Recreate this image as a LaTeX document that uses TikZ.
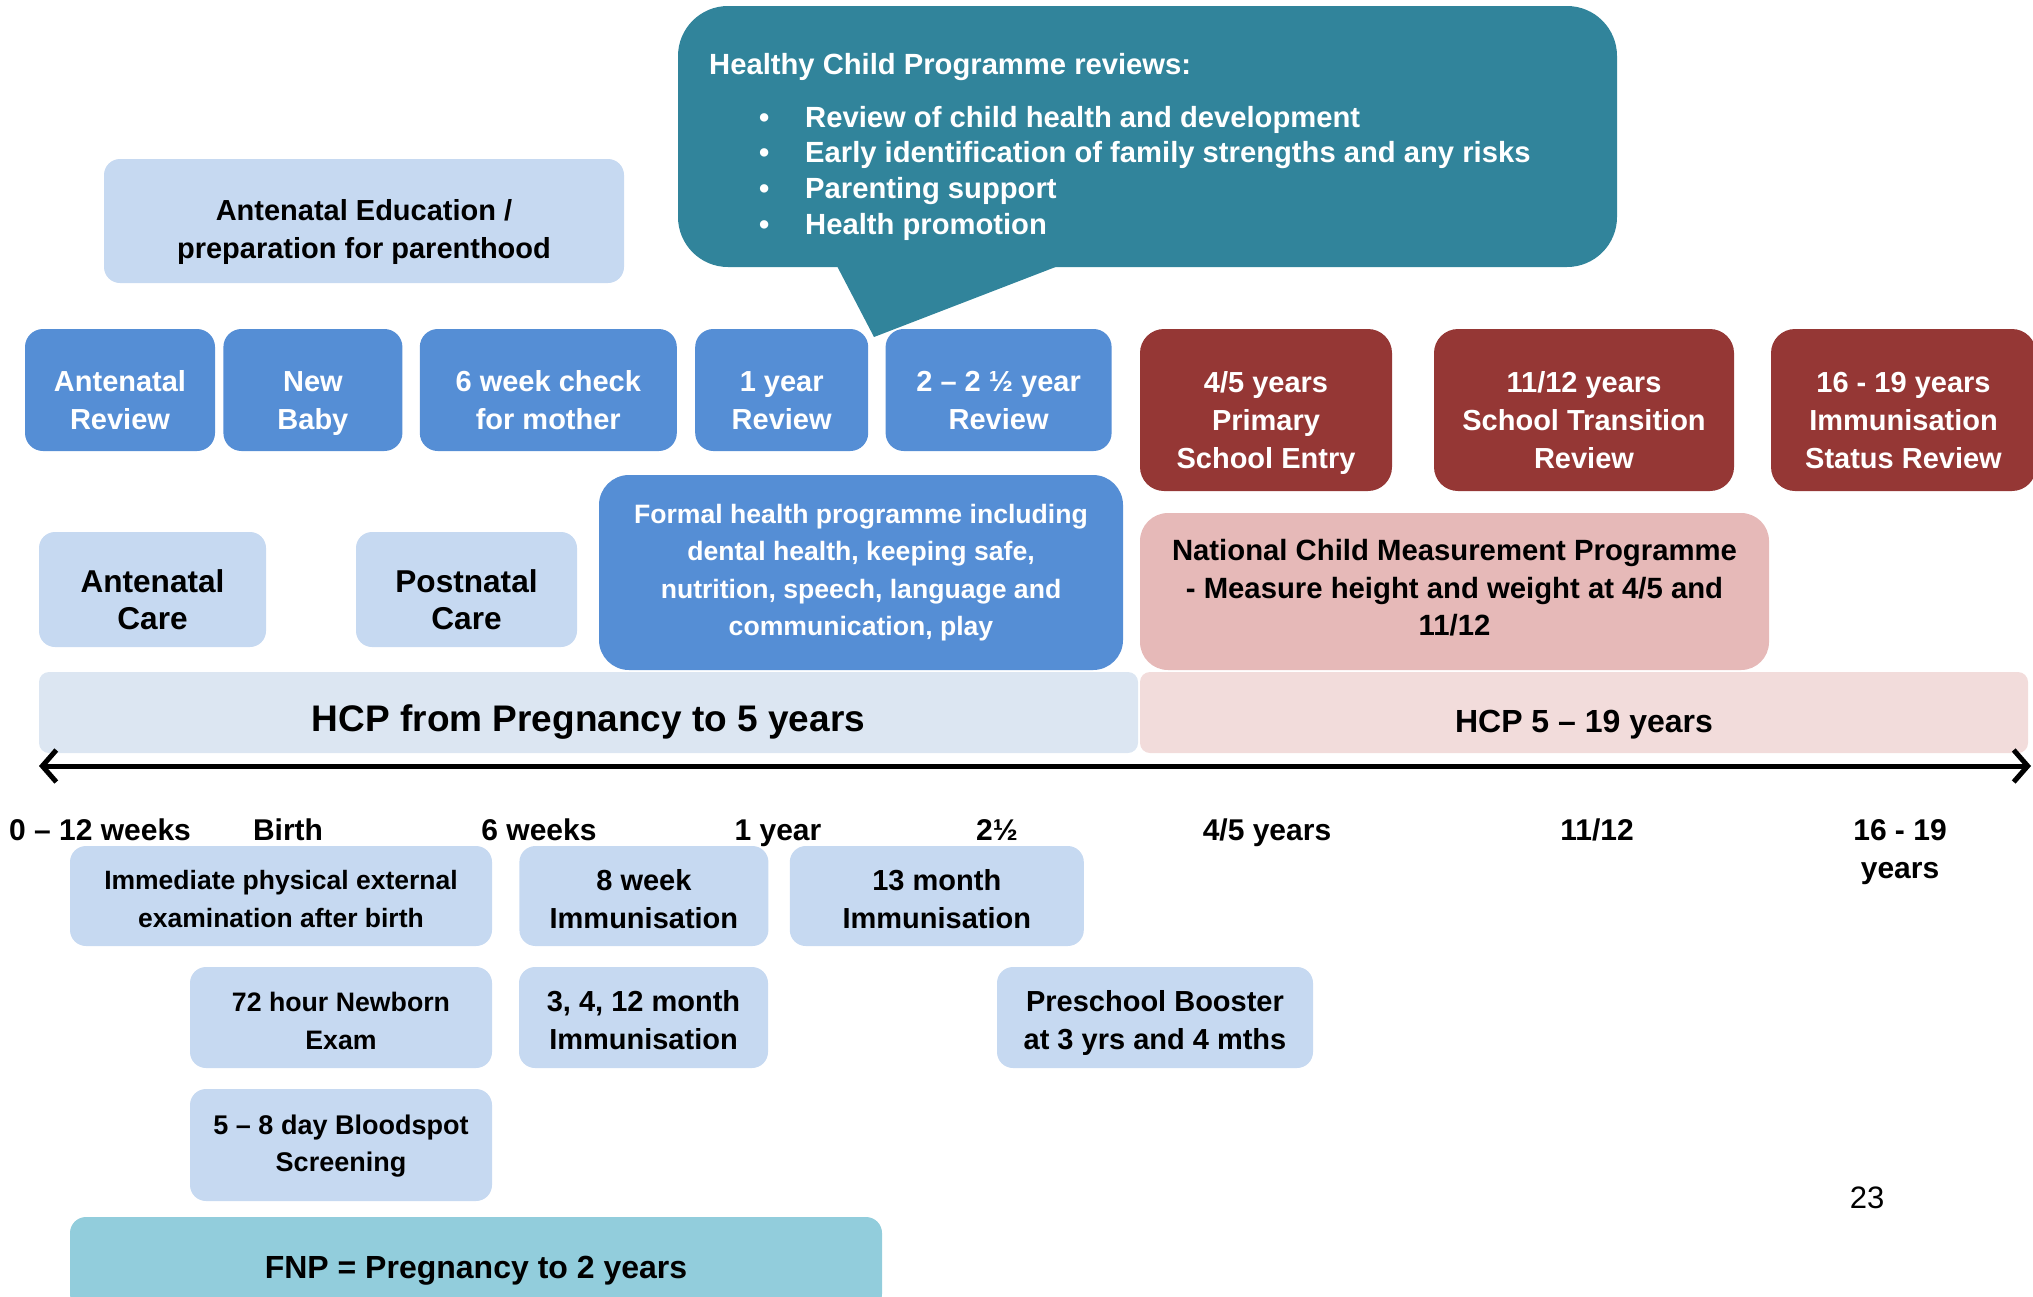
\documentclass[tikz,border=0pt]{standalone}
\usepackage{fontspec}
\setmainfont{Liberation Sans}
\usetikzlibrary{positioning,arrows.meta}

\definecolor{hcpteal}{HTML}{31849B}
\definecolor{revblue}{HTML}{558ED5}
\definecolor{paleblue}{HTML}{C6D9F1}
\definecolor{schred}{HTML}{953735}
\definecolor{ncmppink}{HTML}{E6B9B8}
\definecolor{bandblue}{HTML}{DCE6F2}
\definecolor{bandpink}{HTML}{F2DCDB}
\definecolor{fnpaqua}{HTML}{92CDDC}

\newcommand{\fsz}[2]{\fontsize{#1}{#2}\selectfont}

\begin{document}
\begin{tikzpicture}[x=1pt,y=-1pt,
	revw/.style={
	  fill=revblue,
	  rounded corners=18pt,
	  text=white,
	  font=\fsz{29}{38}\bfseries,
	  align=center,
	  inner sep=0pt,
	  minimum height=122pt,
	  text height=78.8pt,
	  text depth=0pt
	},
	schl/.style={
	  fill=schred,
	  rounded corners=24pt,
	  text=white,
	  font=\fsz{29}{38}\bfseries,
	  align=center,
	  inner sep=0pt,
	  minimum height=162pt,
	  text height=116.8pt,
	  text depth=0pt
	},
	pale/.style={
	  fill=paleblue,
	  rounded corners=16pt,
	  align=center,
	  inner sep=0pt,
	  text depth=0pt
	},
	band/.style={
	  rounded corners=10pt,
	  inner sep=0pt,
	  minimum height=81pt
	},
	lbl/.style={
	  font=\fsz{30}{38}\bfseries,
	  align=center,
	  inner sep=0pt,
	  text height=21.5pt,
	  text depth=0pt
	},
	barb/.tip={Straight Barb[length=14pt,width=32pt]}
]
\useasboundingbox (0,0) rectangle (2033,1296);
\clip (0,0) rectangle (2033,1296);

% antenatal education
\node[pale,minimum width=520pt,minimum height=124pt,
  font=\fsz{29}{38}\bfseries,text height=74.8pt] at (364,221)
  (edu) {Antenatal Education /\\preparation for parenthood};

% review boxes
\node[revw,minimum width=190pt] at (120,390)
  (ante) {Antenatal\\Review};
\node[revw,minimum width=179pt,right=8pt of ante]
  (baby) {New\\Baby};
\node[revw,minimum width=257pt,right=17pt of baby]
  (sixwk) {6 week check\\for mother};
\node[revw,minimum width=173pt,right=18pt of sixwk]
  (oneyr) {1 year\\Review};
\node[revw,minimum width=226pt,right=17pt of oneyr]
  (twoyr) {2 – 2 ½ year\\Review};

% school age reviews
\node[schl,minimum width=252pt] at (1266,410)
  (fouryr) {4/5 years\\Primary\\School Entry};
\node[schl,minimum width=300pt] at (1584,410)
  (elevenyr) {11/12 years\\School Transition\\Review};
\node[schl,minimum width=265pt] at (1903.5,410)
  (sixteenyr) {16 - 19 years\\Immunisation\\Status Review};

% reviews bubble
\node[fill=hcpteal,rounded corners=50pt,minimum width=939pt,
  minimum height=261pt] at (1147.5,136.5) (hcp) {};
\coordinate (tip) at (874,337);
\fill[hcpteal] ([xshift=-312.5pt,yshift=5pt]hcp.south) -- (tip)
  -- ([xshift=-79.5pt,yshift=5pt]hcp.south) -- cycle;
\node[anchor=north west,inner sep=0pt,text=white,align=left,
  font=\fsz{29.2}{35.7}\bfseries] at (709,53)
  (hcplist) {Healthy Child Programme reviews:\\[17pt]
  \hspace*{50pt}\makebox[46pt][l]{\textbullet}Review of child health and development\\
  \hspace*{50pt}\makebox[46pt][l]{\textbullet}Early identification of family strengths and any risks\\
  \hspace*{50pt}\makebox[46pt][l]{\textbullet}Parenting support\\
  \hspace*{50pt}\makebox[46pt][l]{\textbullet}Health promotion};

% care and programmes
\node[pale,minimum width=227pt,minimum height=115pt,
  font=\fsz{31.6}{37}\bfseries,text height=79.6pt] at (152.5,589.5)
  (antecare) {Antenatal\\Care};
\node[pale,minimum width=221pt,minimum height=115pt,
  font=\fsz{31.6}{37}\bfseries,text height=79.6pt] at (466.5,589.5)
  (postcare) {Postnatal\\Care};
\node[fill=revblue,rounded corners=30pt,minimum width=524pt,
  minimum height=195pt,text=white,align=center,inner sep=0pt,
  font=\fsz{26.6}{37.3}\bfseries] at (861,572.5)
  (formal) {Formal health programme including\\dental health, keeping safe,\\nutrition, speech, language and\\communication, play};
\node[fill=ncmppink,rounded corners=28pt,minimum width=629pt,
  minimum height=157pt,align=center,inner sep=0pt,
  font=\fsz{29.3}{37.5}\bfseries,text height=88pt,text depth=0pt] at (1454.5,591.5)
  (ncmp) {National Child Measurement Programme\\- Measure height and weight at 4/5 and\\11/12};

% age bands
\node[band,fill=bandblue,minimum width=1099pt,font=\fsz{37}{44}\bfseries,
  text height=45.5pt,text depth=8pt] at (588.5,712.5)
  (hcpA) {HCP from Pregnancy to 5 years};
\node[band,fill=bandpink,minimum width=888pt,font=\fsz{32}{38}\bfseries,
  text height=47pt,text depth=7pt] at (1584,712.5)
  (hcpB) {HCP 5 – 19 years};

% time line
\coordinate (tstart) at (39,766);
\coordinate (tend) at (2031,766);
\draw[line width=5pt,barb-barb] (tstart) -- (tend);

\node[lbl] at (100,830) (t0) {0 – 12 weeks};
\node[lbl] at (288,830) (t1) {Birth};
\node[lbl] at (539,830) (t2) {6 weeks};
\node[lbl] at (778,830) (t3) {1 year};
\node[lbl] at (997,830) (t4) {2½};
\node[lbl] at (1267,830) (t5) {4/5 years};
\node[lbl] at (1597,830) (t6) {11/12};
\node[lbl,text height=59.5pt] at (1900,849) (t7) {16 - 19\\years};

% checks and immunisations
\node[pale,minimum width=422pt,minimum height=100pt,
  font=\fsz{26.5}{38}\bfseries,text height=63pt] at (281,896)
  (immed) {Immediate physical external\\examination after birth};
\node[pale,minimum width=249pt,minimum height=100pt,
  font=\fsz{29}{38}\bfseries,text height=64.8pt,right=27pt of immed]
  (eightwk) {8 week\\Immunisation};
\node[pale,minimum width=294pt,minimum height=100pt,
  font=\fsz{29}{38}\bfseries,text height=64.8pt,right=21pt of eightwk]
  (thirteen) {13 month\\Immunisation};
\node[pale,minimum width=302pt,minimum height=101pt,
  font=\fsz{26.7}{38}\bfseries,text height=63pt] at (341,1017.5)
  (newborn) {72 hour Newborn\\Exam};
\node[pale,minimum width=249pt,minimum height=101pt,
  font=\fsz{29}{38}\bfseries,text height=64.8pt] at (643.5,1017.5)
  (threefour) {3, 4, 12 month\\Immunisation};
\node[pale,minimum width=316pt,minimum height=101pt,
  font=\fsz{29}{38}\bfseries,text height=64.8pt] at (1155,1017.5)
  (booster) {Preschool Booster\\at 3 yrs and 4 mths};
\node[pale,minimum width=302pt,minimum height=112pt,
  font=\fsz{27}{37}\bfseries,text height=53.5pt] at (341,1145)
  (blood) {5 – 8 day Bloodspot\\Screening};

% family nurse partnership
\node[fill=fnpaqua,rounded corners=16pt,minimum width=812pt,
  minimum height=93pt,inner sep=0pt,font=\fsz{32}{38}\bfseries,
  text height=36.9pt,text depth=7pt] at (476,1263.5)
  (fnp) {FNP = Pregnancy to 2 years};

\node[font=\fsz{31}{38},inner sep=0pt] at (1867,1198) (pgnum) {23};

\end{tikzpicture}
\end{document}
